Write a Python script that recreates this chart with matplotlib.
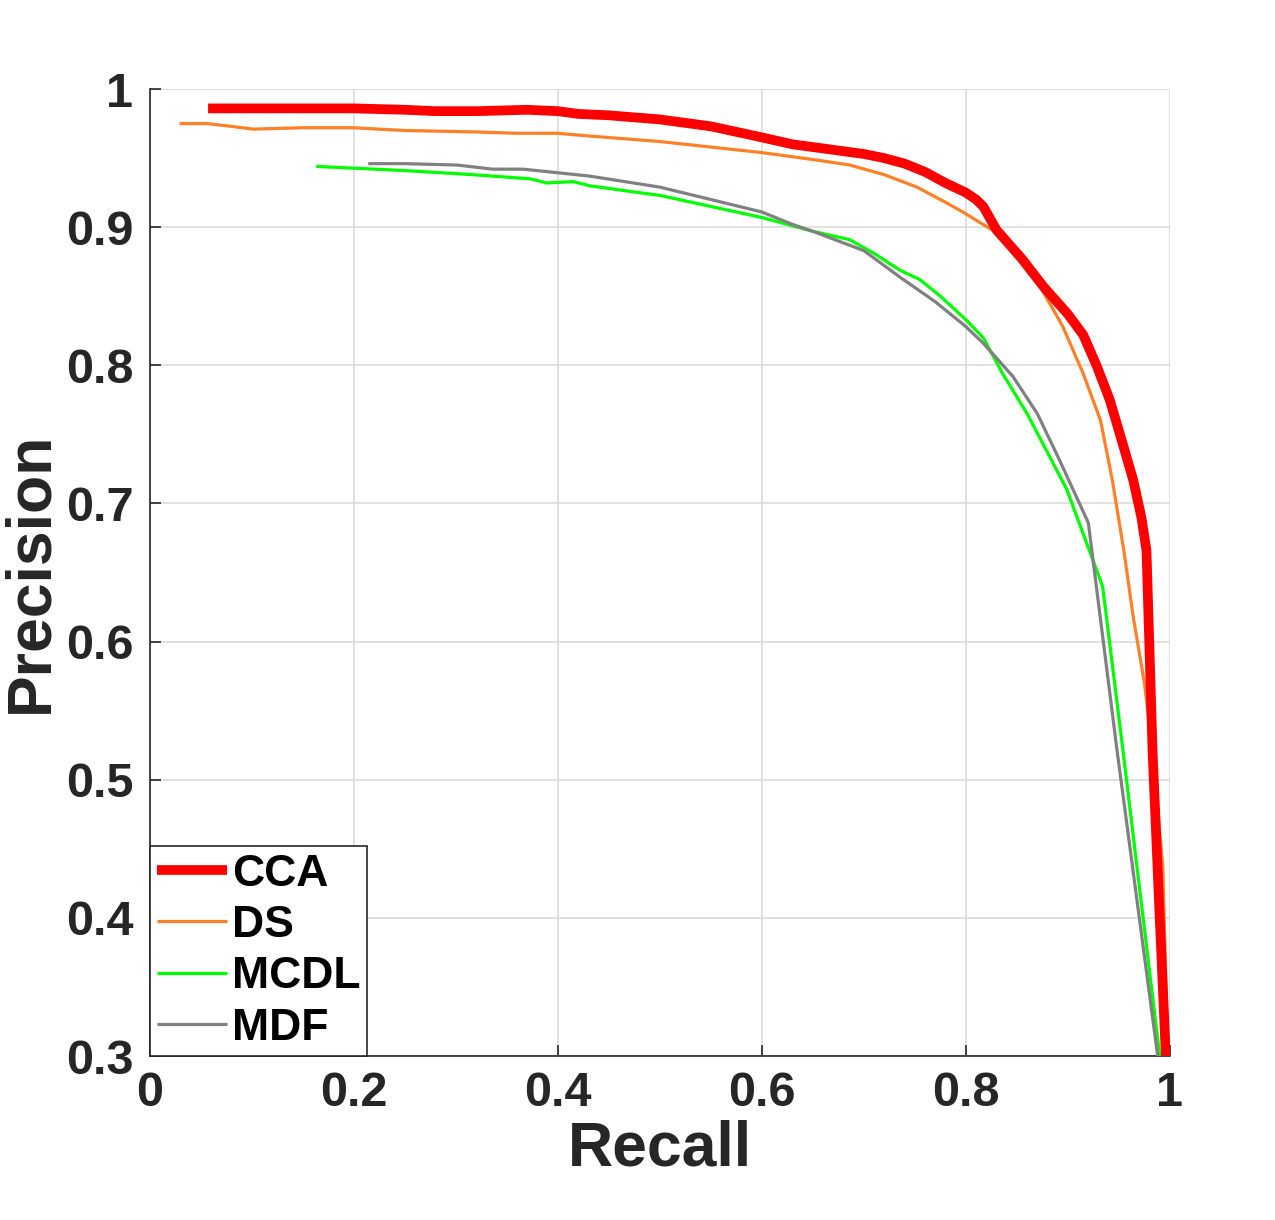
import matplotlib
matplotlib.use('Agg')
import matplotlib.pyplot as plt

plt.rcParams['font.family'] = ['Liberation Sans', 'DejaVu Sans']
plt.rcParams['font.weight'] = 'bold'
plt.rcParams['lines.solid_capstyle'] = 'butt'

# precision / recall points
cca_recall = [0.057, 0.10, 0.15, 0.20, 0.25, 0.28, 0.32, 0.37, 0.40, 0.42, 0.45, 0.50, 0.55, 0.60,
              0.63, 0.65, 0.68, 0.70, 0.72, 0.74, 0.76, 0.78, 0.80, 0.81, 0.817, 0.83, 0.855, 0.876,
              0.90, 0.915, 0.928, 0.941, 0.953, 0.964, 0.972, 0.977, 0.983, 0.990, 0.996]
cca_precision = [0.986, 0.986, 0.986, 0.986, 0.985, 0.984, 0.984, 0.985, 0.984, 0.982, 0.981, 0.978, 0.973, 0.965,
                 0.960, 0.958, 0.955, 0.953, 0.950, 0.946, 0.940, 0.932, 0.925, 0.920, 0.915, 0.898, 0.877, 0.857,
                 0.837, 0.822, 0.800, 0.775, 0.745, 0.717, 0.690, 0.666, 0.520, 0.400, 0.300]

ds_recall = [0.029, 0.056, 0.08, 0.101, 0.15, 0.199, 0.25, 0.317, 0.36, 0.399, 0.431, 0.50, 0.55, 0.60,
             0.65, 0.686, 0.72, 0.752, 0.78, 0.797, 0.83, 0.869, 0.895, 0.915, 0.932, 0.944, 0.955,
             0.964, 0.975, 0.983, 0.993, 0.998]
ds_precision = [0.975, 0.975, 0.973, 0.971, 0.972, 0.972, 0.970, 0.969, 0.968, 0.968, 0.966, 0.962, 0.958, 0.954,
                0.949, 0.945, 0.938, 0.929, 0.918, 0.911, 0.896, 0.862, 0.828, 0.794, 0.760, 0.715, 0.665,
                0.618, 0.570, 0.521, 0.437, 0.300]

mcdl_recall = [0.163, 0.25, 0.317, 0.373, 0.389, 0.415, 0.431, 0.47, 0.50, 0.55, 0.60, 0.63, 0.65, 0.686,
               0.71, 0.735, 0.755, 0.775, 0.80, 0.817, 0.836, 0.86, 0.899, 0.934, 0.954, 0.990]
mcdl_precision = [0.944, 0.941, 0.938, 0.935, 0.932, 0.933, 0.930, 0.926, 0.923, 0.915, 0.907, 0.901, 0.897, 0.891,
                  0.881, 0.869, 0.862, 0.850, 0.833, 0.820, 0.794, 0.765, 0.710, 0.640, 0.521, 0.300]

mdf_recall = [0.214, 0.25, 0.301, 0.336, 0.366, 0.431, 0.50, 0.55, 0.60, 0.63, 0.65, 0.70, 0.735, 0.77,
              0.80, 0.817, 0.846, 0.87, 0.892, 0.920, 0.948, 0.988]
mdf_precision = [0.946, 0.946, 0.945, 0.942, 0.942, 0.937, 0.929, 0.920, 0.911, 0.902, 0.897, 0.883, 0.864, 0.846,
                 0.828, 0.816, 0.792, 0.765, 0.731, 0.686, 0.522, 0.300]

x_ticks = [0, 0.2, 0.4, 0.6, 0.8, 1]
x_tick_labels = ['0', '0.2', '0.4', '0.6', '0.8', '1']
y_ticks = [0.3, 0.4, 0.5, 0.6, 0.7, 0.8, 0.9, 1]
y_tick_labels = ['0.3', '0.4', '0.5', '0.6', '0.7', '0.8', '0.9', '1']

fig = plt.figure(figsize=(12.75, 12.2), dpi=100)
ax = fig.add_axes([0.1176, 0.1344, 0.8, 0.7926])

ax.plot(cca_recall, cca_precision, color=(1, 0, 0), lw=7, label='CCA', zorder=5)
ax.plot(ds_recall, ds_precision, color=(1, 0.5, 0.15), lw=2.3, label='DS', zorder=4)
ax.plot(mcdl_recall, mcdl_precision, color=(0, 1, 0), lw=2.3, label='MCDL', zorder=3)
ax.plot(mdf_recall, mdf_precision, color=(0.5, 0.5, 0.5), lw=2.3, label='MDF', zorder=3)

ax.set_xlim(0, 1)
ax.set_ylim(0.3, 1)
ax.set_xticks(x_ticks)
ax.set_xticklabels(x_tick_labels)
ax.set_yticks(y_ticks)
ax.set_yticklabels(y_tick_labels)
ax.tick_params(direction='in', length=8, width=1.2, labelsize=35, colors='#262626')
ax.tick_params(axis='x', pad=11)
ax.tick_params(axis='y', pad=12)

ax.grid(True, color='#dcdcdc', lw=1.2)
ax.set_axisbelow(True)
for side in ['top', 'right']:
    ax.spines[side].set_visible(False)
for side in ['left', 'bottom']:
    ax.spines[side].set_color('#262626')
    ax.spines[side].set_linewidth(1.2)

ax.set_xlabel('Recall', fontsize=45, fontweight='bold', color='#262626', labelpad=2)
ax.set_ylabel('Precision', fontsize=45, fontweight='bold', color='#262626', labelpad=4)

leg = ax.legend(loc='lower left', fontsize=32, frameon=True, fancybox=False, borderaxespad=0,
                handlelength=1.58, handletextpad=0.1, labelspacing=0.235, borderpad=0.16)
leg.get_frame().set_edgecolor('#262626')
leg.get_frame().set_linewidth(1.2)
leg.get_frame().set_alpha(1)
for t in leg.get_texts():
    t.set_fontweight('bold')

fig.savefig('out.png', dpi=100, facecolor='white')
